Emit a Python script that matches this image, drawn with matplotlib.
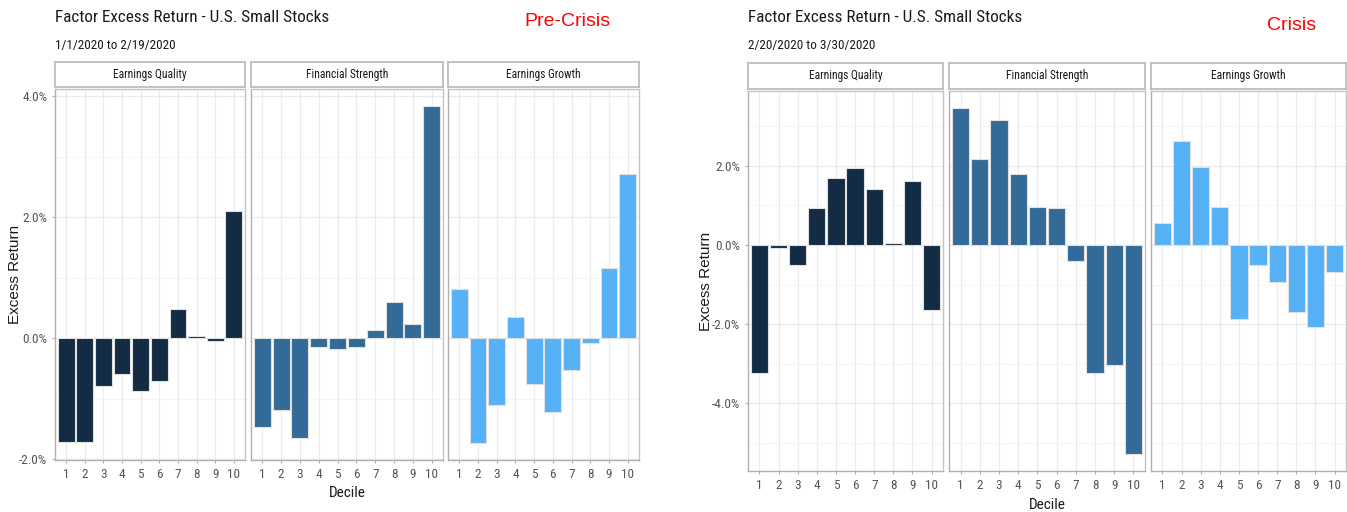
import matplotlib
matplotlib.use("Agg")
import matplotlib.pyplot as plt
import numpy as np
from matplotlib.ticker import FixedLocator, FuncFormatter

# ---- data ----
deciles = list(range(1, 11))
factors = ["Earnings Quality", "Financial Strength", "Earnings Growth"]

pre_eq = [-1.71, -1.71, -0.78, -0.58, -0.87, -0.71, 0.49, 0.04, -0.05, 2.11]
pre_fs = [-1.47, -1.18, -1.64, -0.15, -0.18, -0.15, 0.14, 0.60, 0.23, 3.84]
pre_eg = [0.81, -1.73, -1.10, 0.35, -0.76, -1.21, -0.52, -0.07, 1.16, 2.71]

cri_eq = [-3.23, -0.08, -0.51, 0.94, 1.68, 1.93, 1.41, 0.05, 1.61, -1.63]
cri_fs = [3.45, 2.17, 3.16, 1.79, 0.97, 0.93, -0.40, -3.24, -3.02, -5.27]
cri_eg = [0.56, 2.63, 1.98, 0.96, -1.86, -0.51, -0.94, -1.68, -2.06, -0.69]

pre_ticks = [-2.0, 0.0, 2.0, 4.0]
cri_ticks = [-4.0, -2.0, 0.0, 2.0]

colors = ["#132B43", "#336A98", "#56B1F7"]

W, H = 1347, 512
fig = plt.figure(figsize=(W / 100, H / 100), dpi=100)

NARROW = ["Roboto Condensed", "Liberation Sans Narrow", "Open Sans Condensed",
          "Liberation Sans", "DejaVu Sans"]
REG = ["Liberation Sans", "DejaVu Sans"]


def ax_px(x0, y0, x1, y1):
    return fig.add_axes([x0 / W, 1 - y1 / H, (x1 - x0) / W, (y1 - y0) / H])


def draw_chart(series, ticks, panels_x, strip_y, panel_y, title_xy, sub_xy,
               tag, tag_xy, subtitle, ylab_x, xlab_y):
    allv = np.concatenate([np.array(s) for s in series])
    lo, hi = allv.min(), max(allv.max(), 0)
    rng = hi - lo
    ylim = (lo - 0.05 * rng, hi + 0.05 * rng)
    minor = np.arange(np.floor(ylim[0]), np.ceil(ylim[1]) + 1, 1.0)
    for i, (vals, (x0, x1)) in enumerate(zip(series, panels_x)):
        ax = ax_px(x0, panel_y[0], x1, panel_y[1])
        ax.set_xlim(0.4, 10.6)
        ax.set_ylim(*ylim)
        ax.yaxis.set_major_locator(FixedLocator(ticks))
        ax.yaxis.set_minor_locator(FixedLocator([m for m in minor if m not in ticks]))
        ax.xaxis.set_major_locator(FixedLocator(deciles))
        ax.grid(True, which="major", color="#EBEBEB", lw=0.9, zorder=0)
        ax.grid(True, which="minor", axis="y", color="#F4F4F4", lw=0.6, zorder=0)
        ax.set_axisbelow(True)
        ax.bar(deciles, vals, width=0.9, color=colors[i], edgecolor="#E0E0E0",
               linewidth=0.8, zorder=2)
        for sp in ax.spines.values():
            sp.set_color("#C4C4C4")
            sp.set_linewidth(1.0)
        ax.spines["left"].set_color("#B0B0B0")
        ax.spines["bottom"].set_color("#B0B0B0")
        ax.tick_params(axis="both", which="both", length=2.5, color="#B0B0B0",
                       labelsize=9.5, labelcolor="#555555", pad=3)
        ax.tick_params(axis="y", which="minor", length=0)
        ax.set_xticklabels([str(d) for d in deciles], family=NARROW)
        if i == 0:
            ax.yaxis.set_major_formatter(FuncFormatter(lambda v, p: f"{v:.1f}%"))
            for lab in ax.get_yticklabels():
                lab.set_family(NARROW)
        else:
            ax.tick_params(axis="y", which="both", labelleft=False, length=0)
        # strip
        sx = ax_px(x0, strip_y[0], x1, strip_y[1])
        sx.set_xticks([])
        sx.set_yticks([])
        sx.set_facecolor("white")
        for sp in sx.spines.values():
            sp.set_color("#BDBDBD")
            sp.set_linewidth(1.3)
        sx.text(0.5, 0.5, factors[i], ha="center", va="center", fontsize=8.3,
                family=NARROW, color="#1A1A1A", transform=sx.transAxes)
    # titles
    fig.text(title_xy[0] / W, 1 - title_xy[1] / H,
             "Factor Excess Return - U.S. Small Stocks", fontsize=12.3,
             family=NARROW, va="center", ha="left", color="#1A1A1A")
    fig.text(sub_xy[0] / W, 1 - sub_xy[1] / H, subtitle, fontsize=9.5,
             family=NARROW, va="center", ha="left", color="#1A1A1A")
    fig.text(tag_xy[0] / W, 1 - tag_xy[1] / H, tag, fontsize=14, family=REG,
             va="center", ha="center", color="#FF0000")
    fig.text(ylab_x / W, 1 - (panel_y[0] + panel_y[1]) / 2 / H, "Excess Return",
             rotation=90, fontsize=11, family=REG, va="center", ha="center",
             color="#1A1A1A")
    midx = (panels_x[1][0] + panels_x[1][1]) / 2
    fig.text(midx / W, 1 - xlab_y / H, "Decile", fontsize=11, family=NARROW,
             va="center", ha="center", color="#1A1A1A")


draw_chart([pre_eq, pre_fs, pre_eg], pre_ticks,
           [(55, 245), (251, 443), (448, 639)],
           (62, 87), (89, 460), (55, 18), (55, 45),
           "Pre-Crisis", (567, 22), "1/1/2020 to 2/19/2020", 15, 493)

draw_chart([cri_eq, cri_fs, cri_eg], cri_ticks,
           [(748, 943), (949, 1145), (1151, 1346)],
           (63, 89), (91, 471), (748, 18), (748, 45),
           "Crisis", (1292, 25), "2/20/2020 to 3/30/2020", 706, 505)

fig.savefig("out.png", dpi=100, facecolor="white")
